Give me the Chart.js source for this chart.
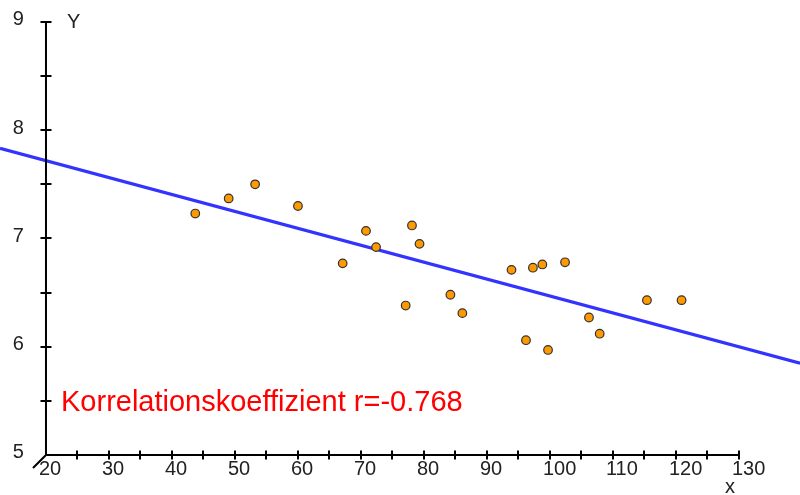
<!DOCTYPE html>
<html>
<head>
<meta charset="utf-8">
<script src="https://cdn.jsdelivr.net/npm/chart.js@4.4.1/dist/chart.umd.min.js"></script>
<style>
  html, body { margin: 0; padding: 0; background: #fff; }
  #wrap { width: 800px; height: 495px; position: relative; }
</style>
</head>
<body>
<div id="wrap"><canvas id="chart"></canvas></div>
<script>
// ── DATA ──────────────────────────────────────────────────────────────────────

const xValues = [43.7, 49.0, 53.2, 60.0, 67.1, 70.8, 72.4, 78.1, 79.3, 77.1, 84.2,
                 86.1, 93.9, 97.3, 98.8, 102.4, 96.2, 99.7, 106.2, 107.9, 115.4, 120.9];
const yValues = [7.23, 7.37, 7.50, 7.30, 6.77, 7.07, 6.92, 7.12, 6.95, 6.38, 6.48,
                 6.31, 6.71, 6.73, 6.76, 6.78, 6.06, 5.97, 6.27, 6.12, 6.43, 6.43];

// regression line, read at both edges of the picture
const fitX = [12.7, 139.7];
const fitY = [7.833, 5.847];

const xLabels = [20, 30, 40, 50, 60, 70, 80, 90, 100, 110, 120, 130];
const xMarks  = [25, 30, 35, 40, 45, 50, 55, 60, 65, 70, 75, 80, 85, 90, 95, 100, 105, 110, 115, 120, 125, 130];
const yLabels = [5, 6, 7, 8, 9];
const yMarks  = [5.5, 6, 6.5, 7, 7.5, 8, 8.5, 9];

const xTitle = 'x';
const yTitle = 'Y';
const corrText = 'Korrelationskoeffizient r=-0.768';

// ── AXES PLUGIN ───────────────────────────────────────────────────────────────

const FONT = '"Liberation Sans", Arial, sans-serif';

const axesPlugin = {
  id: 'crossAxes',
  afterDatasetsDraw(chart) {
    const ctx = chart.ctx;
    const xs = chart.scales.x, ys = chart.scales.y;
    const ox = xs.getPixelForValue(xLabels[0]);
    const oy = ys.getPixelForValue(yLabels[0]);
    const xEnd = xs.getPixelForValue(xLabels[xLabels.length - 1]);
    const yEnd = ys.getPixelForValue(yLabels[yLabels.length - 1]);

    ctx.save();
    ctx.strokeStyle = '#000';
    ctx.lineWidth = 2;
    ctx.lineCap = 'butt';

    // axis lines
    ctx.beginPath();
    ctx.moveTo(ox, oy); ctx.lineTo(xEnd, oy);
    ctx.moveTo(ox, oy); ctx.lineTo(ox, yEnd);
    // break mark at the origin
    ctx.moveTo(ox - 13, oy + 13); ctx.lineTo(ox, oy);
    ctx.stroke();

    // tick marks
    ctx.beginPath();
    xMarks.forEach(v => {
      const p = Math.round(xs.getPixelForValue(v));
      ctx.moveTo(p, oy - 4.5); ctx.lineTo(p, oy + 4.5);
    });
    yMarks.forEach(v => {
      const p = Math.round(ys.getPixelForValue(v));
      ctx.moveTo(ox - 5.5, p); ctx.lineTo(ox + 5.5, p);
    });
    ctx.stroke();

    // tick labels
    ctx.fillStyle = '#222';
    ctx.font = '20px ' + FONT;
    ctx.textAlign = 'left';
    ctx.textBaseline = 'middle';
    xLabels.forEach(v => {
      ctx.fillText(String(v), xs.getPixelForValue(v) - 7, oy + 15);
    });
    ctx.textAlign = 'right';
    yLabels.forEach(v => {
      ctx.fillText(String(v), ox - 22, ys.getPixelForValue(v) - 2);
    });

    // axis titles
    ctx.textAlign = 'left';
    ctx.fillText(yTitle, ox + 21, yEnd + 1);
    ctx.fillText(xTitle, xEnd - 14, oy + 33);

    // correlation note
    ctx.fillStyle = '#ff0000';
    ctx.font = '29px ' + FONT;
    ctx.textBaseline = 'alphabetic';
    ctx.fillText(corrText, 61, 411);
    ctx.restore();
  }
};

// ── CHART ─────────────────────────────────────────────────────────────────────

new Chart(document.getElementById('chart'), {
  type: 'scatter',
  data: {
    datasets: [
      {
        label: 'Daten',
        data: xValues.map((x, i) => ({ x, y: yValues[i] })),
        backgroundColor: '#ff9900',
        borderColor: '#333',
        borderWidth: 1.2,
        pointRadius: 4.3,
        order: 0,
      },
      {
        label: 'Regression',
        type: 'line',
        data: fitX.map((x, i) => ({ x, y: fitY[i] })),
        borderColor: '#3333ff',
        borderWidth: 3.2,
        pointRadius: 0,
        fill: false,
        order: 1,
      },
    ],
  },
  options: {
    responsive: true,
    maintainAspectRatio: false,
    animation: false,
    layout: { padding: 0, autoPadding: false },
    plugins: { legend: { display: false }, tooltip: { enabled: false } },
    scales: {
      x: { type: 'linear', min: 12.7, max: 139.7, display: false },
      y: { type: 'linear', min: 4.63, max: 9.203, display: false },
    },
  },
  plugins: [axesPlugin],
});
</script>
</body>
</html>
